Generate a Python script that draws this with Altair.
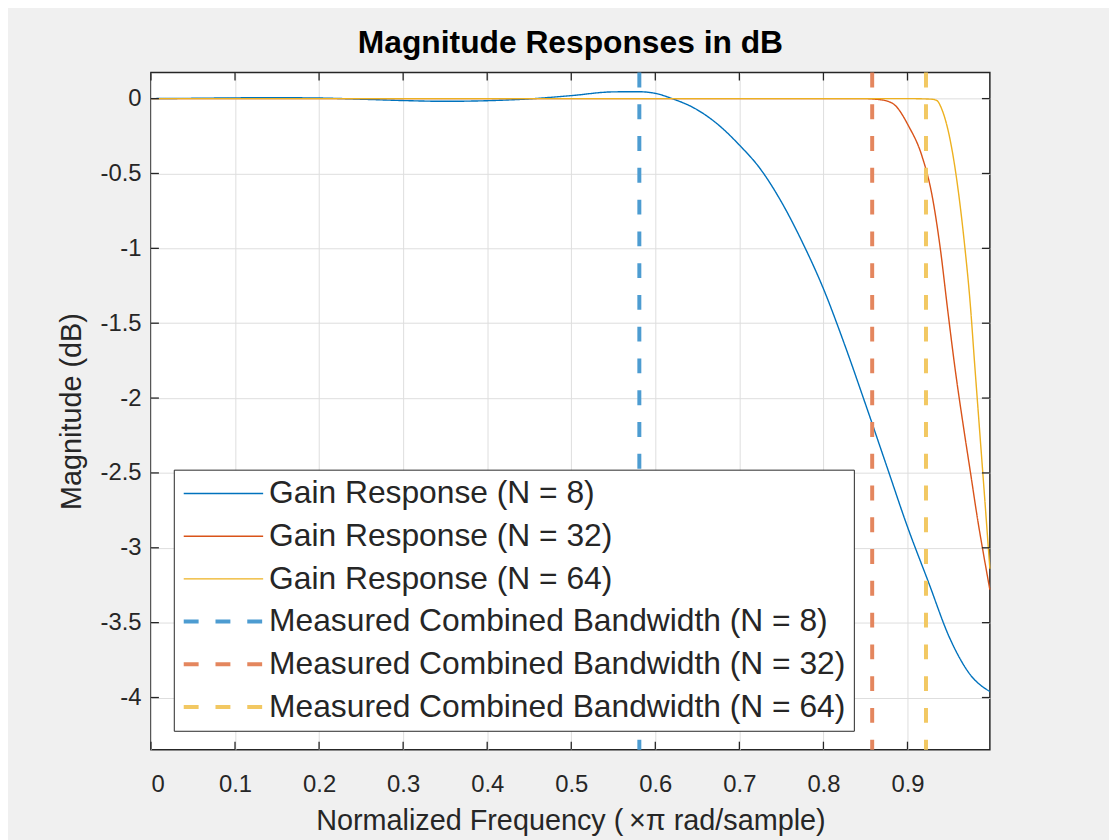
import altair as alt
import pandas as pd

# ---- data ----
f8 = [0, 0.05, 0.1, 0.15, 0.2, 0.25, 0.3, 0.35, 0.4, 0.45, 0.5, 0.55, 0.58, 0.6, 0.62,
      0.65, 0.675, 0.7, 0.725, 0.75, 0.775, 0.8, 0.825, 0.85, 0.875, 0.9, 0.925, 0.95,
      0.975, 0.998]
g8 = [0, 0.002, 0.005, 0.006, 0.004, -0.004, -0.013, -0.018, -0.014, -0.002, 0.02, 0.045,
      0.046, 0.035, 0.0, -0.075, -0.175, -0.31, -0.47, -0.69, -0.96, -1.27, -1.64, -2.04,
      -2.45, -2.86, -3.23, -3.60, -3.85, -3.96]

f32 = [0, 0.2, 0.4, 0.6, 0.8, 0.85, 0.862, 0.8735, 0.8855, 0.901, 0.917, 0.929, 0.939,
       0.948, 0.957, 0.966, 0.975, 0.984, 0.991, 0.998]
g32 = [0, 0, 0, 0, 0, 0, -0.004, -0.013, -0.046, -0.18, -0.38, -0.64, -1.0, -1.42, -1.82,
       -2.17, -2.50, -2.83, -3.06, -3.28]

f64 = [0, 0.2, 0.4, 0.6, 0.8, 0.9, 0.929, 0.935, 0.9407, 0.9526, 0.9605, 0.968, 0.9745,
       0.980, 0.986, 0.992, 0.998]
g64 = [0, 0, 0, 0, 0, 0, -0.004, -0.013, -0.069, -0.33, -0.62, -0.98, -1.36, -1.78, -2.23,
       -2.68, -3.14]

bandwidths = [0.581, 0.858, 0.922]

names = ["Gain Response (N = 8)", "Gain Response (N = 32)", "Gain Response (N = 64)",
         "Measured Combined Bandwidth (N = 8)", "Measured Combined Bandwidth (N = 32)",
         "Measured Combined Bandwidth (N = 64)"]
colors = ["#0072BD", "#D95319", "#EDB120", "#4D9CD1", "#E4865E", "#F2C862"]
dashes = [[1, 0], [1, 0], [1, 0], [15, 17], [15, 17], [15, 17]]
widths = [1.4, 1.4, 1.4, 4, 4, 4]

x_ticks = [0, 0.1, 0.2, 0.3, 0.4, 0.5, 0.6, 0.7, 0.8, 0.9]
y_ticks = [0, -0.5, -1, -1.5, -2, -2.5, -3, -3.5, -4]

# ---- tables ----
rows = []
for name, fs, gs in zip(names[:3], [f8, f32, f64], [g8, g32, g64]):
    for f, g in zip(fs, gs):
        rows.append({"f": f, "g": g, "series": name})
curves = pd.DataFrame(rows)
bw = pd.DataFrame({"f": bandwidths, "series": names[3:]})
xt = pd.DataFrame({"t": x_ticks})
yt = pd.DataFrame({"t": y_ticks})

W, H = 845, 682
FONT = "Liberation Sans"

xscale = alt.Scale(domain=[0, 0.998], nice=False, zero=False)
yscale = alt.Scale(domain=[-4.348, 0.174], nice=False, zero=False)

legend = alt.Legend(
    title=None, orient="none", legendX=23, legendY=400,
    fillColor="white", strokeColor="#262626", padding=8,
    symbolType="stroke", symbolSize=6400, clipHeight=32, rowPadding=11,
    labelOffset=4, labelFont=FONT, labelFontSize=32, labelColor="#262626",
    labelLimit=1000, symbolOffset=0,
)
col = alt.Color("series:N", scale=alt.Scale(domain=names, range=colors), legend=legend)
dash = alt.StrokeDash("series:N", scale=alt.Scale(domain=names, range=dashes), legend=legend)
sw = alt.StrokeWidth("series:N", scale=alt.Scale(type="ordinal", domain=names, range=widths),
                     legend=legend)

label_expr = "replace(format(datum.value, '.1~f'), '\u2212', '-')"

x_axis = alt.Axis(values=x_ticks, labelExpr=label_expr, grid=True, ticks=False, domain=False,
                  labelBaseline="alphabetic", labelPadding=42,
                  title="Normalized Frequency (\u2009×π rad/sample)", titleFontSize=29,
                  titleBaseline="alphabetic", titleY=80)
y_axis = alt.Axis(values=y_ticks, labelExpr=label_expr, grid=True, ticks=False, domain=False,
                  labelPadding=10, title="Magnitude (dB)", titleFontSize=29,
                  titleBaseline="alphabetic", titleX=-71, titleY=H / 2, titleAngle=-90)

lines = alt.Chart(curves).mark_line(interpolate="monotone").encode(
    x=alt.X("f:Q", scale=xscale, axis=x_axis),
    y=alt.Y("g:Q", scale=yscale, axis=y_axis),
    color=col, strokeDash=dash, strokeWidth=sw,
    order=alt.Order("f:Q"),
)

rules = alt.Chart(bw).mark_rule().encode(
    x=alt.X("f:Q", scale=xscale),
    color=col, strokeDash=dash, strokeWidth=sw,
)

tick_style = dict(color="#262626", strokeWidth=1.3)
tb = alt.Chart(xt).mark_rule(**tick_style).encode(x=alt.X("t:Q", scale=xscale), y=alt.value(H), y2=alt.value(H - 8))
tt = alt.Chart(xt).mark_rule(**tick_style).encode(x=alt.X("t:Q", scale=xscale), y=alt.value(0), y2=alt.value(8))
tl = alt.Chart(yt).mark_rule(**tick_style).encode(y=alt.Y("t:Q", scale=yscale), x=alt.value(0), x2=alt.value(8))
tr = alt.Chart(yt).mark_rule(**tick_style).encode(y=alt.Y("t:Q", scale=yscale), x=alt.value(W), x2=alt.value(W - 8))

chart = alt.layer(lines, rules, tb, tt, tl, tr).properties(
    width=W, height=H,
    title=alt.TitleParams("Magnitude Responses in dB", font=FONT, fontSize=32,
                          fontWeight="bold", color="#000000", anchor="middle",
                          baseline="alphabetic", offset=15, dy=29),
    autosize=alt.AutoSizeParams(type="none"),
    padding={"left": 144, "top": 62, "right": 120, "bottom": 88},
).configure(
    background="#f0f0f0",
).configure_view(
    fill="white", stroke="#262626", strokeWidth=1.5,
).configure_axis(
    gridColor="#dedede", gridWidth=1, gridOpacity=1,
    labelFont=FONT, labelFontSize=24, labelColor="#262626",
    titleFont=FONT, titleColor="#262626", titleFontWeight="normal",
)

chart.save("out.html", embed_options={"renderer": "svg", "actions": False})
